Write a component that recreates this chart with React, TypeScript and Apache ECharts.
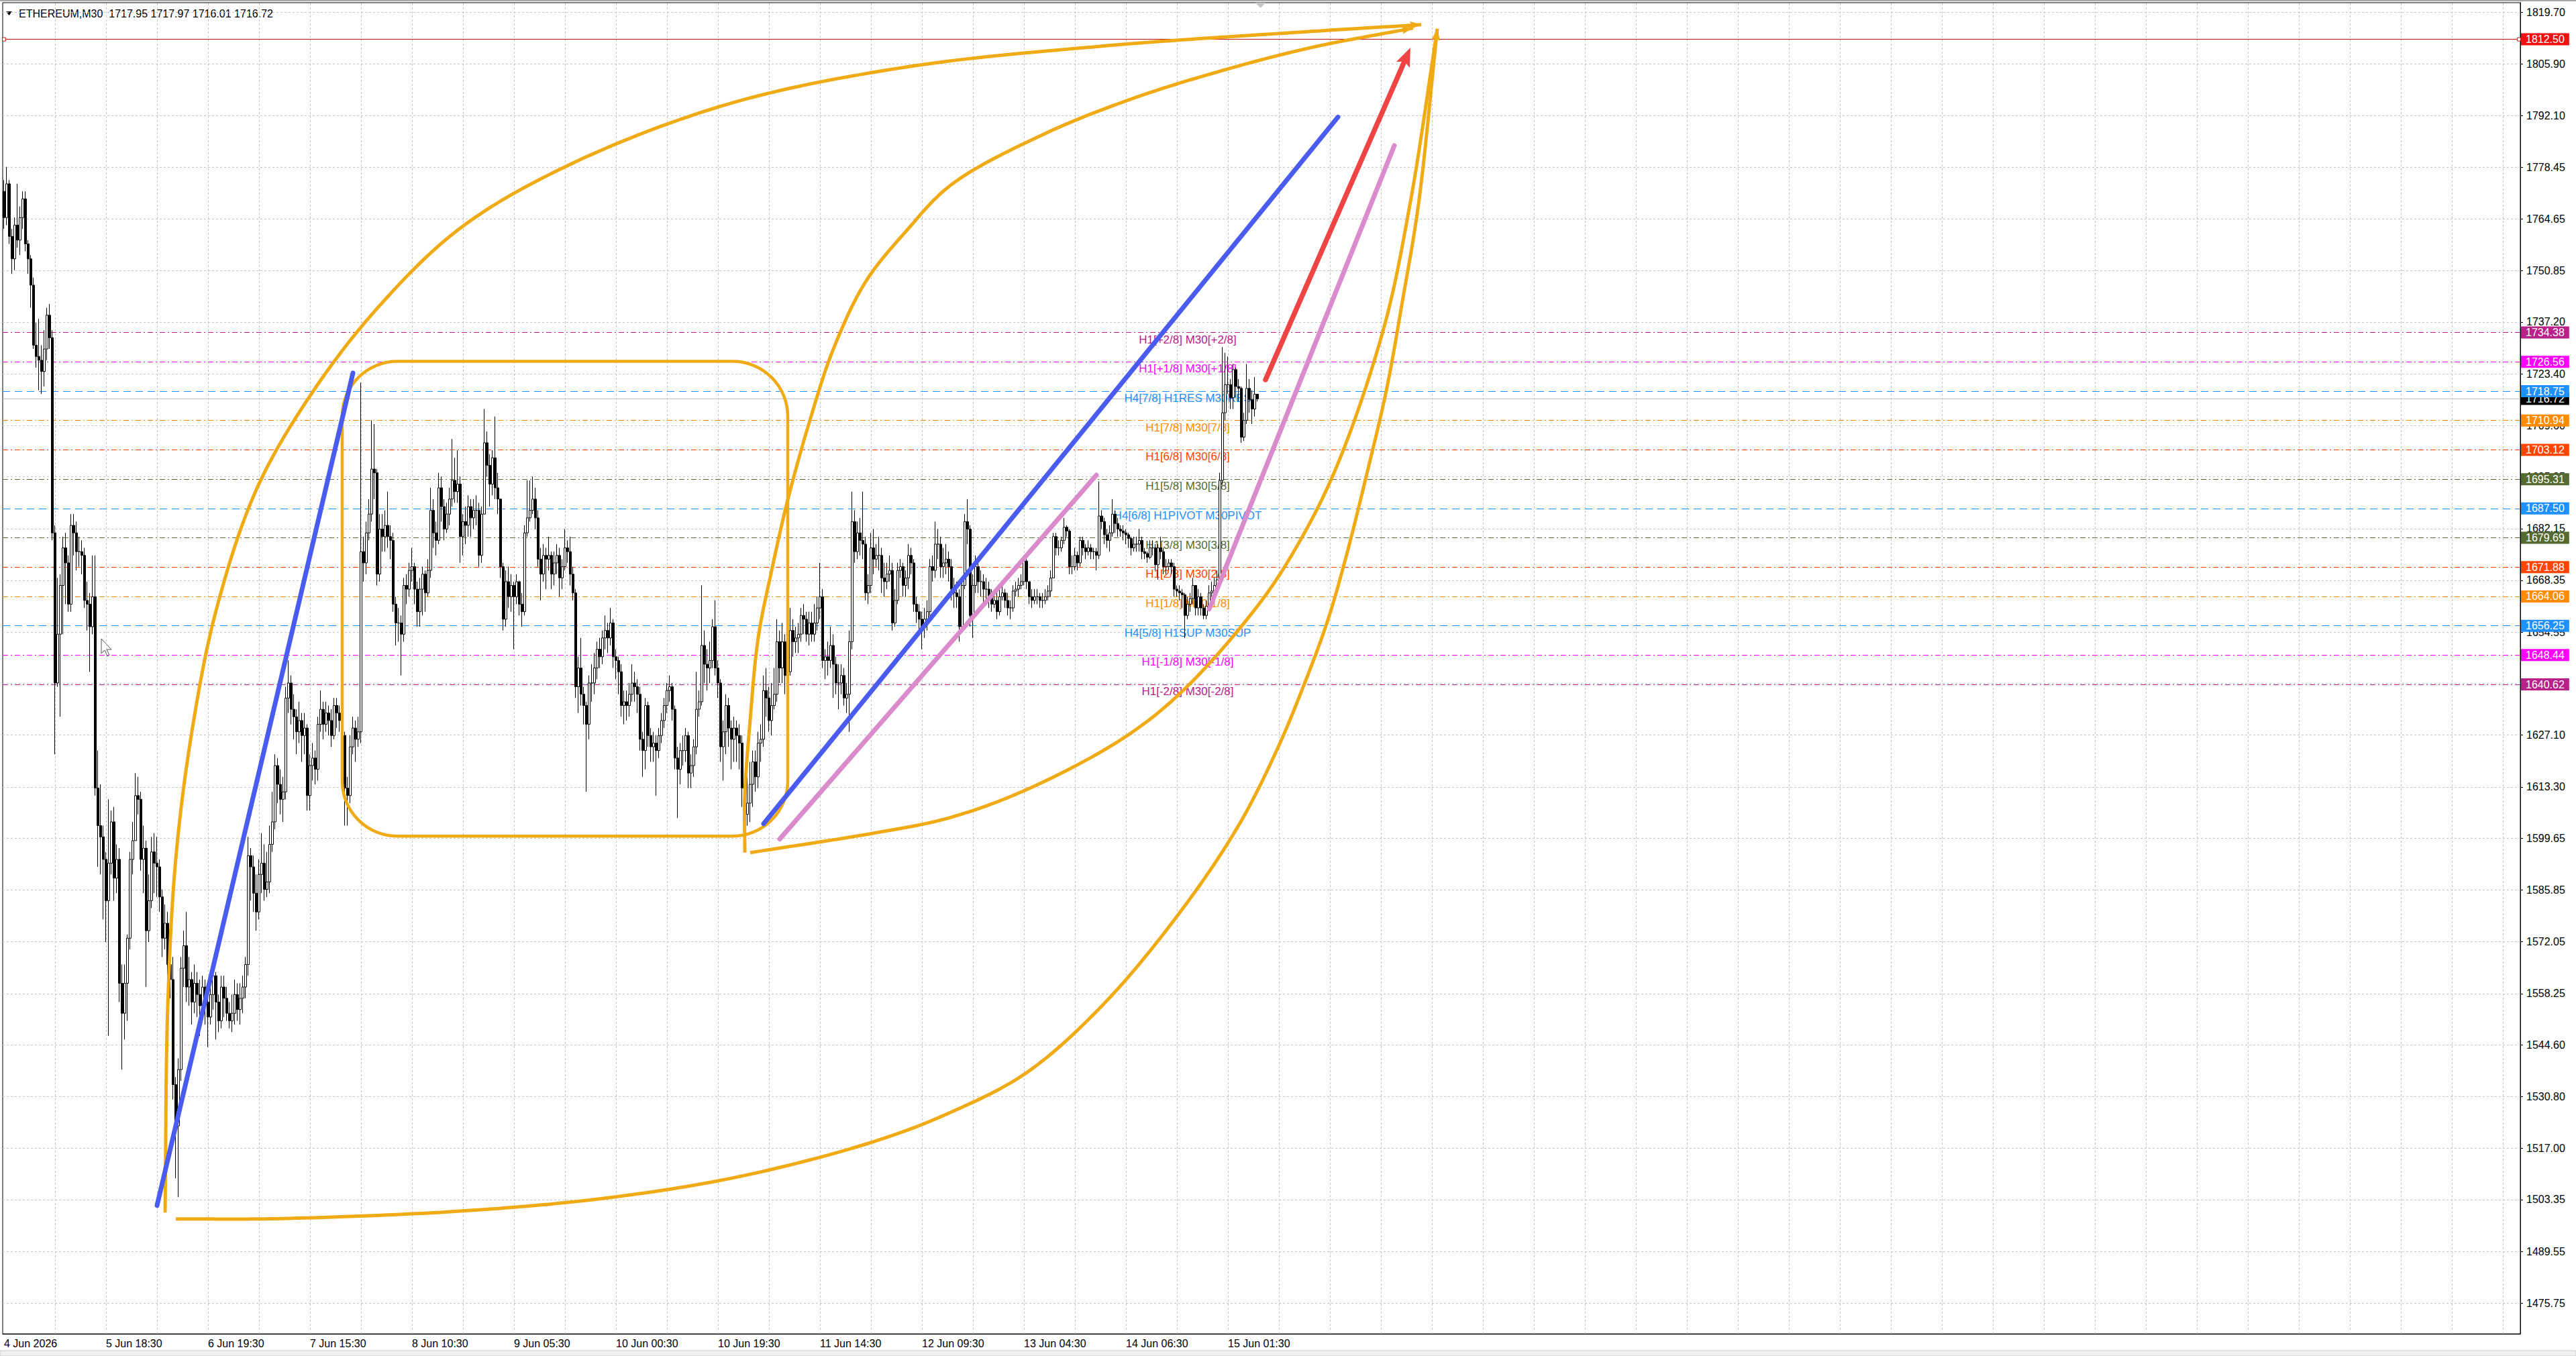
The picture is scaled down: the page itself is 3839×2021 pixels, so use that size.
import React, { useEffect, useRef } from 'react';
import * as echarts from 'echarts';

const FONT = '"Liberation Sans", Arial, sans-serif';
const SYMBOL = 'ETHEREUM';
const TIMEFRAME = 'M30';

// ---------- candles (M30) ----------
const FIRST_OPEN = 1772;
const CLOSE = [
  1765, 1774, 1760, 1754, 1763, 1759, 1765, 1770, 1758, 1754,
  1747, 1731, 1728, 1727, 1724, 1730, 1739, 1733, 1681, 1641,
  1654, 1667, 1677, 1673, 1662, 1683, 1681, 1676, 1676, 1675,
  1663, 1662, 1656, 1664, 1613, 1603, 1600, 1594, 1583, 1593,
  1604, 1589, 1594, 1561, 1553, 1561, 1573, 1594, 1599, 1611,
  1610, 1594, 1597, 1575, 1583, 1596, 1593, 1592, 1584, 1573,
  1577, 1566, 1562, 1534, 1523, 1538, 1565, 1571, 1560, 1562,
  1556, 1561, 1558, 1555, 1560, 1556, 1552, 1558, 1563, 1556,
  1551, 1560, 1557, 1553, 1551, 1553, 1558, 1554, 1557, 1560,
  1566, 1595, 1592, 1585, 1580, 1590, 1593, 1586, 1588, 1598,
  1604, 1619, 1614, 1610, 1612, 1637, 1641, 1634, 1632, 1628,
  1631, 1627, 1629, 1611, 1619, 1621, 1618, 1630, 1634, 1630,
  1633, 1631, 1627, 1635, 1633, 1631, 1627, 1613, 1611, 1624,
  1629, 1626, 1628, 1676, 1673, 1681, 1686, 1698, 1697, 1670,
  1682, 1680, 1683, 1680, 1679, 1662, 1657, 1657, 1654, 1667,
  1666, 1671, 1672, 1666, 1660, 1666, 1670, 1665, 1671, 1687,
  1681, 1679, 1693, 1688, 1682, 1686, 1690, 1695, 1692, 1694,
  1680, 1684, 1683, 1688, 1685, 1687, 1687, 1675, 1686, 1705,
  1699, 1694, 1701, 1693, 1690, 1672, 1658, 1668, 1664, 1667,
  1664, 1668, 1662, 1660, 1681, 1685, 1687, 1690, 1685, 1674,
  1670, 1675, 1674, 1675, 1670, 1673, 1675, 1669, 1672, 1677,
  1676, 1670, 1665, 1640, 1645, 1638, 1635, 1630, 1641, 1641,
  1645, 1650, 1648, 1653, 1655, 1653, 1657, 1648, 1647, 1644,
  1635, 1636, 1635, 1638, 1641, 1640, 1638, 1626, 1623, 1635,
  1627, 1624, 1625, 1623, 1627, 1631, 1635, 1639, 1640, 1634,
  1621, 1618, 1623, 1623, 1627, 1617, 1619, 1624, 1634, 1636,
  1651, 1646, 1645, 1647, 1656, 1645, 1641, 1624, 1628, 1635,
  1629, 1626, 1629, 1627, 1625, 1613, 1606, 1609, 1614, 1620,
  1616, 1625, 1626, 1639, 1637, 1631, 1635, 1638, 1652, 1645,
  1652, 1643, 1644, 1655, 1652, 1653, 1654, 1659, 1658, 1654,
  1657, 1654, 1657, 1661, 1664, 1647, 1648, 1647, 1651, 1646,
  1641, 1641, 1643, 1637, 1638, 1652, 1684, 1676, 1681, 1679,
  1678, 1665, 1667, 1677, 1674, 1675, 1675, 1669, 1668, 1670,
  1671, 1657, 1663, 1671, 1672, 1667, 1669, 1675, 1673, 1662,
  1660, 1658, 1656, 1658, 1660, 1672, 1671, 1678, 1678, 1672,
  1673, 1674, 1672, 1666, 1665, 1664, 1656, 1667, 1684, 1682,
  1659, 1667, 1672, 1668, 1668, 1666, 1666, 1664, 1662, 1663,
  1660, 1664, 1665, 1663, 1661, 1661, 1665.5, 1666, 1667, 1668,
  1673.5, 1668, 1664, 1663, 1664, 1664, 1663, 1663, 1664, 1665.5,
  1669, 1680, 1677, 1677, 1679, 1682.5, 1681.5, 1672, 1672, 1675,
  1673, 1679, 1677, 1676, 1677, 1676, 1676, 1675, 1685.5, 1684,
  1680.5, 1679, 1681, 1686, 1683.5, 1682, 1681.5, 1681, 1680.5, 1679.5,
  1677, 1678, 1678, 1679, 1676, 1675.5, 1674.5, 1677, 1677, 1672.5,
  1677, 1676, 1672, 1672, 1673, 1672, 1666, 1665.5, 1665, 1664.5,
  1659, 1662, 1663.5, 1667, 1661, 1664, 1661, 1659, 1661.5, 1665,
  1665.5, 1667, 1668.5, 1695, 1713, 1720.5, 1720.5, 1717, 1724.5, 1720,
  1719.5, 1706.5, 1711, 1719.5, 1716.5, 1714, 1717.95, 1716.72,
];
const HIGH = [
  1775, 1778.5, 1775, 1762, 1765, 1774, 1768, 1772, 1772, 1759,
  1755, 1749, 1737, 1738, 1731, 1735, 1741, 1742, 1735, 1683,
  1669, 1670, 1680, 1681, 1675, 1686, 1686, 1684, 1680, 1679,
  1677, 1668, 1665, 1675, 1675, 1623, 1614, 1603, 1596, 1610,
  1607, 1608, 1598, 1597, 1566, 1566, 1574, 1596, 1604, 1617,
  1616, 1612, 1603, 1599, 1590, 1600, 1601, 1600, 1594, 1586,
  1582, 1580, 1570, 1568, 1536, 1541, 1568, 1575, 1580, 1568,
  1564, 1566, 1564, 1562, 1563, 1562, 1560, 1563, 1566, 1564,
  1558, 1563, 1563, 1560, 1556, 1558, 1562, 1561, 1561, 1563,
  1568, 1600, 1597, 1595, 1590, 1594, 1601, 1598, 1596, 1603,
  1612, 1622, 1621, 1618, 1616, 1640, 1647, 1643, 1638, 1634,
  1636, 1633, 1633, 1630, 1622, 1625, 1623, 1632, 1639, 1636,
  1636, 1635, 1634, 1637, 1637, 1635, 1632, 1628, 1616, 1627,
  1632, 1631, 1632, 1721, 1680, 1684, 1690, 1711, 1710, 1698,
  1686, 1686, 1687, 1692, 1683, 1681, 1664, 1661, 1659, 1669,
  1670, 1673, 1677, 1673, 1668, 1669, 1672, 1671, 1674, 1693,
  1690, 1684, 1697, 1696, 1690, 1689, 1693, 1706, 1701, 1703,
  1696, 1686, 1688, 1691, 1690, 1690, 1691, 1689, 1688, 1714,
  1708, 1702, 1703, 1712, 1697, 1689, 1673, 1671, 1672, 1670,
  1668, 1670, 1668, 1665, 1683, 1695, 1695, 1696, 1693, 1687,
  1677, 1678, 1677, 1680, 1676, 1676, 1678, 1677, 1674, 1682,
  1679, 1680, 1672, 1666, 1648, 1653, 1640, 1636, 1643, 1646,
  1649, 1652, 1653, 1655, 1659, 1657, 1661, 1658, 1650, 1648,
  1646, 1639, 1639, 1641, 1646, 1644, 1642, 1640, 1628, 1637,
  1636, 1629, 1628, 1627, 1629, 1633, 1637, 1641, 1643, 1641,
  1635, 1624, 1625, 1627, 1629, 1628, 1622, 1626, 1644, 1639,
  1667, 1655, 1650, 1652, 1658, 1663, 1647, 1642, 1631, 1638,
  1637, 1631, 1632, 1631, 1630, 1627, 1614, 1616, 1620, 1623,
  1623, 1628, 1630, 1643, 1645, 1640, 1641, 1645, 1658, 1655,
  1657, 1654, 1649, 1661, 1658, 1656, 1657, 1661, 1662, 1660,
  1660, 1660, 1662, 1664, 1673, 1666, 1650, 1652, 1656, 1654,
  1648, 1646, 1646, 1645, 1641, 1655, 1692, 1687, 1684, 1685,
  1692, 1680, 1670, 1681, 1682, 1678, 1680, 1677, 1673, 1673,
  1675, 1673, 1666, 1673, 1674, 1673, 1671, 1678, 1677, 1674,
  1664, 1662, 1660, 1661, 1663, 1674, 1675, 1684, 1682, 1680,
  1677, 1678, 1676, 1674, 1669, 1668, 1666, 1669, 1686, 1690,
  1683, 1670, 1675, 1674, 1671, 1670, 1669, 1668, 1666, 1665,
  1665, 1666, 1668, 1666, 1665, 1663, 1667, 1668, 1669, 1670,
  1675, 1674, 1668, 1666, 1666, 1666, 1665, 1665, 1666, 1667,
  1671, 1681, 1681, 1679, 1680, 1685, 1683, 1682, 1675, 1677,
  1676, 1680, 1680, 1678, 1679, 1678, 1677, 1677, 1694.7, 1687,
  1685, 1682, 1683, 1690, 1687, 1685, 1683, 1683, 1682, 1681,
  1680, 1680, 1680, 1682, 1680, 1677, 1676, 1679, 1679, 1678,
  1678, 1680, 1677, 1674, 1674, 1674, 1673, 1667, 1667, 1666,
  1665, 1664, 1665, 1669, 1667, 1666, 1665, 1662, 1663, 1667,
  1668, 1669, 1671, 1697, 1730.5, 1729, 1728, 1722, 1726, 1725,
  1722, 1720, 1713, 1726, 1722, 1719, 1722.5, 1717.97,
];
const LOW = [
  1762, 1763, 1758, 1750, 1751, 1757, 1755, 1762, 1756, 1750,
  1741, 1730, 1725, 1719, 1718, 1720, 1727, 1730, 1679, 1622,
  1640, 1632, 1654, 1662, 1660, 1660, 1675, 1671, 1672, 1670,
  1661, 1655, 1644, 1654, 1611, 1592, 1590, 1578, 1572, 1547,
  1590, 1583, 1585, 1556, 1538, 1546, 1551, 1570, 1590, 1600,
  1606, 1591, 1585, 1560, 1572, 1581, 1585, 1584, 1580, 1568,
  1570, 1563, 1557, 1530, 1509, 1504, 1535, 1560, 1556, 1555,
  1550, 1553, 1552, 1547, 1551, 1550, 1544, 1550, 1554, 1546,
  1548, 1549, 1552, 1551, 1549, 1548, 1550, 1551, 1550, 1553,
  1557, 1563, 1583, 1580, 1575, 1578, 1585, 1583, 1584, 1585,
  1596, 1602, 1609, 1606, 1604, 1610, 1633, 1630, 1626, 1622,
  1625, 1620, 1622, 1607, 1607, 1615, 1614, 1615, 1628, 1626,
  1628, 1627, 1624, 1626, 1629, 1628, 1624, 1603, 1603, 1609,
  1622, 1620, 1624, 1625, 1668, 1670, 1679, 1684, 1690, 1667,
  1668, 1676, 1676, 1677, 1674, 1660, 1651, 1652, 1643, 1652,
  1662, 1664, 1668, 1662, 1656, 1656, 1659, 1660, 1664, 1669,
  1677, 1675, 1678, 1684, 1679, 1681, 1683, 1688, 1689, 1689,
  1673, 1675, 1678, 1680, 1680, 1682, 1683, 1672, 1673, 1695,
  1696, 1688, 1691, 1690, 1686, 1669, 1655, 1656, 1661, 1660,
  1650, 1662, 1659, 1656, 1659, 1680, 1684, 1686, 1682, 1672,
  1663, 1668, 1666, 1671, 1666, 1667, 1670, 1664, 1666, 1671,
  1673, 1667, 1663, 1637, 1633, 1635, 1630, 1612, 1626, 1636,
  1638, 1642, 1645, 1646, 1650, 1649, 1651, 1645, 1642, 1638,
  1632, 1630, 1631, 1632, 1636, 1636, 1633, 1623, 1616, 1618,
  1624, 1620, 1620, 1611, 1621, 1625, 1629, 1633, 1636, 1631,
  1618, 1605, 1614, 1619, 1620, 1613, 1613, 1616, 1622, 1632,
  1635, 1641, 1639, 1641, 1645, 1643, 1637, 1620, 1615, 1622,
  1624, 1618, 1620, 1620, 1618, 1608, 1600, 1603, 1604, 1608,
  1612, 1613, 1620, 1624, 1632, 1628, 1627, 1634, 1636, 1641,
  1641, 1638, 1638, 1643, 1648, 1649, 1649, 1652, 1654, 1652,
  1651, 1652, 1652, 1655, 1658, 1645, 1642, 1643, 1645, 1637,
  1638, 1634, 1638, 1635, 1633, 1628, 1650, 1673, 1674, 1675,
  1674, 1663, 1662, 1665, 1670, 1672, 1671, 1665, 1664, 1666,
  1668, 1655, 1656, 1662, 1669, 1664, 1664, 1666, 1670, 1660,
  1657, 1654, 1650, 1653, 1655, 1658, 1668, 1669, 1674, 1669,
  1669, 1670, 1668, 1663, 1661, 1661, 1652, 1655, 1666, 1678,
  1656, 1653, 1665, 1665, 1664, 1662, 1662, 1661, 1660, 1661,
  1658, 1659, 1663, 1661, 1659, 1658, 1660, 1664, 1664, 1666,
  1667, 1666, 1662, 1661, 1662, 1662, 1661, 1661, 1662, 1663,
  1664, 1669, 1675, 1675, 1676, 1678, 1680, 1670, 1670, 1671,
  1671, 1672, 1675, 1674, 1675, 1674, 1674, 1671, 1674, 1682,
  1678, 1677, 1676, 1680, 1681, 1680, 1680, 1679, 1678, 1677,
  1675, 1676, 1676, 1676, 1674, 1674, 1673, 1674, 1675, 1671,
  1668.5, 1674, 1670, 1670, 1671, 1670, 1664, 1664, 1663, 1661,
  1653, 1658, 1660, 1662, 1659, 1659, 1659, 1658, 1658, 1661,
  1664, 1665, 1666, 1668, 1694, 1711, 1718, 1714, 1714, 1717,
  1716, 1705, 1705.5, 1710, 1713, 1710, 1712, 1716.01,
];

// ---------- time axis ----------
const N_SLOTS = 938; // bars + chart shift area
const GRID_STEP_BARS = 19;
const X_LABEL_INDEX = [0, 38, 76, 114, 152, 190, 228, 266, 304, 342, 380, 418, 456];
const X_LABEL_TEXT = [
  '4 Jun 2026', '5 Jun 18:30', '6 Jun 19:30', '7 Jun 15:30', '8 Jun 10:30', '9 Jun 05:30',
  '10 Jun 00:30', '10 Jun 19:30', '11 Jun 14:30', '12 Jun 09:30', '13 Jun 04:30',
  '14 Jun 06:30', '15 Jun 01:30',
];

// ---------- price axis ----------
const Y_MIN = 1467.59;
const Y_MAX = 1822.26;
const Y_TICKS = [
  1819.70, 1805.90, 1792.10, 1778.45, 1764.65, 1750.85, 1737.20, 1723.40, 1709.60,
  1695.95, 1682.15, 1668.35, 1654.55, 1640.90, 1627.10, 1613.30, 1599.65, 1585.85,
  1572.05, 1558.25, 1544.60, 1530.80, 1517.00, 1503.35, 1489.55, 1475.75,
];

// ---------- Murrey levels ----------
const DM = '#b8208a', MAG = '#ff00ff', BLU = '#1e90ff', ORG = '#ff8c00', ORR = '#ff4500', OLV = '#556b2f';
const LEVEL_PRICES = [1734.38, 1726.56, 1718.75, 1710.94, 1703.12, 1695.31, 1687.50, 1679.69, 1671.88, 1664.06, 1656.25, 1648.44, 1640.62];
const LEVEL_NAMES = [
  'H1[+2/8] M30[+2/8]', 'H1[+1/8] M30[+1/8]', 'H4[7/8] H1RES M30RES', 'H1[7/8] M30[7/8]',
  'H1[6/8] M30[6/8]', 'H1[5/8] M30[5/8]', 'H4[6/8] H1PIVOT M30PIVOT', 'H1[3/8] M30[3/8]',
  'H1[2/8] M30[2/8]', 'H1[1/8] M30[1/8]', 'H4[5/8] H1SUP M30SUP', 'H1[-1/8] M30[-1/8]', 'H1[-2/8] M30[-2/8]',
];
const LEVEL_COLORS = [DM, MAG, BLU, ORG, ORR, OLV, BLU, OLV, ORR, ORG, BLU, MAG, DM];
const LEVEL_IS_H4 = [false, false, true, false, false, false, true, false, false, false, true, false, false];
const LEVEL_TEXT_BAR = 441;
const RED_LINE = 1812.5;

// ---------- drawings: [bar index, price] anchors ----------
const ORANGE = '#f0aa14', BLUE = '#4a5cf0', PINK = '#d98bcc', RED = '#ef4444';
const BOX = [[126.4, 1726.7], [292.15, 1600.2]];
const BLUE_1 = [[57.25, 1501.8], [129.5, 1723.6]];
const BLUE_2 = [[282.5, 1603.5], [497.25, 1791.8]];
const PINK_1 = [[288.5, 1599.4], [406.9, 1696.4]];
const PINK_2 = [[448.9, 1660.7], [517.6, 1784.2]];
const RED_ARROW = [[470.15, 1721.8], [524.25, 1810.3]];
const ARC_UPPER_OUTER = [
  [60.25, 1499.9], [61, 1554.8], [64, 1594.2], [69.75, 1628.1], [78.5, 1660.3], [93.5, 1692.5],
  [113.5, 1717.5], [138.5, 1740.8], [170, 1762.2], [211, 1779.2], [270.25, 1795.3], [336.25, 1805.1],
  [411, 1810.8], [486.75, 1814.6], [527.75, 1816.4],
];
const ARC_LOWER_OUTER = [
  [63.6, 1498.2], [103, 1498.3], [170, 1500.3], [223.5, 1503.75], [273.5, 1509.5], [323.5, 1518.8],
  [352.25, 1526.4], [381, 1537.2], [409.75, 1555.7], [438.5, 1580.75], [459.75, 1603.1], [474.25, 1622.8],
  [484.25, 1639.9], [492.75, 1657.3], [500, 1674.6], [508, 1697.5], [514.5, 1718.9], [521, 1742.7],
  [526.75, 1768.6], [533.75, 1815.3],
];
const ARC_UPPER_INNER = [
  [275.5, 1595.8], [276.25, 1611.1], [278, 1631.2], [281, 1653.1], [286, 1671.0], [292.25, 1689.8],
  [299.75, 1710.4], [308.5, 1730.0], [321, 1747.9], [336, 1761.3], [353, 1773.8], [386.5, 1787.1],
  [420, 1796.6], [453.4, 1804.0], [486.9, 1810.3], [525.25, 1815.5],
];
const ARC_LOWER_INNER = [
  [278.4, 1595.8], [323.5, 1601.0], [352.25, 1605.05], [381, 1612.6], [416.75, 1626.3], [438.5, 1638.8],
  [467, 1661.5], [481.25, 1676.6], [495.75, 1697.8], [514.25, 1735.4], [524.25, 1769.3], [533.75, 1815.3],
];
const RED_LINE_HANDLES = [[0, RED_LINE], [937, RED_LINE]];

const DRAWINGS = [
  { kind: 'box', pts: BOX, color: ORANGE, width: 4.5 },
  { kind: 'curve', pts: ARC_UPPER_OUTER, color: ORANGE, width: 5, head: [17, 12] },
  { kind: 'curve', pts: ARC_LOWER_OUTER, color: ORANGE, width: 5, head: [17, 12] },
  { kind: 'curve', pts: ARC_UPPER_INNER, color: ORANGE, width: 5, head: [17, 12] },
  { kind: 'curve', pts: ARC_LOWER_INNER, color: ORANGE, width: 5, head: [17, 12] },
  { kind: 'line', pts: BLUE_1, color: BLUE, width: 7 },
  { kind: 'line', pts: BLUE_2, color: BLUE, width: 7 },
  { kind: 'line', pts: PINK_1, color: PINK, width: 7 },
  { kind: 'line', pts: PINK_2, color: PINK, width: 7 },
  { kind: 'arrow', pts: RED_ARROW, color: RED, width: 7.5, head: [28, 22] },
  { kind: 'handles', pts: RED_LINE_HANDLES, color: '#c81010', width: 1 },
];

function buildCandles() {
  return CLOSE.map((c, i) => {
    const o = i === 0 ? FIRST_OPEN : CLOSE[i - 1];
    return [o, c, Math.min(LOW[i], o, c), Math.max(HIGH[i], o, c)];
  });
}

// centripetal Catmull-Rom through pixel anchors (rendering only)
function splinePixels(pts: number[][], samples = 20) {
  const n = pts.length;
  if (n < 3) return pts;
  const out: number[][] = [pts[0]];
  const dist = (a: number[], b: number[]) => Math.max(1e-3, Math.pow(Math.hypot(b[0] - a[0], b[1] - a[1]), 0.5));
  for (let i = 0; i < n - 1; i++) {
    const p1 = pts[i], p2 = pts[i + 1];
    const p0 = i === 0 ? [2 * p1[0] - p2[0], 2 * p1[1] - p2[1]] : pts[i - 1];
    const p3 = i + 2 < n ? pts[i + 2] : [2 * p2[0] - p1[0], 2 * p2[1] - p1[1]];
    const t0 = 0, t1 = t0 + dist(p0, p1), t2 = t1 + dist(p1, p2), t3 = t2 + dist(p2, p3);
    for (let s = 1; s <= samples; s++) {
      const t = t1 + ((t2 - t1) * s) / samples;
      const lerp = (a: number[], b: number[], ta: number, tb: number) => {
        const wa = (tb - t) / (tb - ta), wb = (t - ta) / (tb - ta);
        return [a[0] * wa + b[0] * wb, a[1] * wa + b[1] * wb];
      };
      const A1 = lerp(p0, p1, t0, t1), A2 = lerp(p1, p2, t1, t2), A3 = lerp(p2, p3, t2, t3);
      const B1 = lerp(A1, A2, t0, t2), B2 = lerp(A2, A3, t1, t3);
      out.push(lerp(B1, B2, t1, t2));
    }
  }
  return out;
}

function renderDrawing(params: any, api: any) {
  const d: any = DRAWINGS[params.dataIndex];
  const px = d.pts.map((p: number[]) => api.coord(p));
  if (d.kind === 'box') {
    const [a, b] = px;
    return {
      type: 'rect',
      shape: { x: Math.min(a[0], b[0]), y: Math.min(a[1], b[1]), width: Math.abs(b[0] - a[0]), height: Math.abs(b[1] - a[1]), r: 82 },
      style: { fill: null, stroke: d.color, lineWidth: d.width },
    };
  }
  if (d.kind === 'handles') {
    return {
      type: 'group',
      children: px.map((p: number[]) => ({
        type: 'rect', shape: { x: p[0] - 2.5, y: p[1] - 2.5, width: 5, height: 5 },
        style: { fill: '#fff', stroke: d.color, lineWidth: 1 },
      })),
    };
  }
  const children: any[] = [];
  let linePts = d.kind === 'curve' ? splinePixels(px) : px;
  if (d.head) {
    const tip = linePts[linePts.length - 1];
    const prev = linePts[Math.max(0, linePts.length - (d.kind === 'curve' ? 5 : 2))];
    const dx = tip[0] - prev[0], dy = tip[1] - prev[1];
    const len = Math.sqrt(dx * dx + dy * dy) || 1;
    const ux = dx / len, uy = dy / len;
    const nx = -uy, ny = ux;
    const [hl, hw] = d.head;
    const bx = tip[0] - ux * hl, by = tip[1] - uy * hl;
    children.push({
      type: 'polygon',
      shape: { points: [[tip[0], tip[1]], [bx + nx * hw / 2, by + ny * hw / 2], [bx + ux * hl * 0.2, by + uy * hl * 0.2], [bx - nx * hw / 2, by - ny * hw / 2]] },
      style: { fill: d.color },
    });
    if (d.kind === 'arrow') linePts = [px[0], [bx + ux * 4, by + uy * 4]];
  }
  children.unshift({
    type: 'polyline',
    shape: { points: linePts },
    style: { fill: null, stroke: d.color, lineWidth: d.width, lineCap: d.kind === 'curve' ? 'butt' : 'round', lineJoin: 'round' },
  });
  return { type: 'group', children };
}

function renderLevelText(params: any, api: any) {
  const k = params.dataIndex;
  const p = api.coord([api.value(0), api.value(1)]);
  return {
    type: 'text',
    x: p[0],
    y: p[1] + 2,
    style: {
      text: LEVEL_NAMES[k], fill: LEVEL_COLORS[k], font: `17px ${FONT}`,
      align: 'center', verticalAlign: 'top', textAlign: 'center', textVerticalAlign: 'top',
    },
  };
}

function priceBox(bg: string) {
  return {
    show: true, position: 'end', distance: 1,
    formatter: (prm: any) => Number(prm.value).toFixed(2),
    color: '#fff', backgroundColor: bg, padding: [1, 7, 1, 7],
    fontSize: 16, fontFamily: FONT,
  };
}

export default function App() {
  const ref = useRef<HTMLDivElement>(null);
  useEffect(() => {
    const chart = echarts.init(ref.current as HTMLDivElement, null, { renderer: 'svg' });
    const candles = buildCandles();
    const last = candles[candles.length - 1];
    const lastClose = last[1];
    const header = `${SYMBOL},${TIMEFRAME}  ${last[0].toFixed(2)} ${last[3].toFixed(2)} ${last[2].toFixed(2)} ${last[1].toFixed(2)}`;
    const slots = Array.from({ length: N_SLOTS }, (_, i) => String(i));
    const vGrid: number[] = [];
    for (let i = GRID_STEP_BARS; i < N_SLOTS; i += GRID_STEP_BARS) vGrid.push(i);

    const levelLines = LEVEL_PRICES.map((p, k) => ({
      yAxis: p,
      lineStyle: { color: LEVEL_COLORS[k], width: 1, type: LEVEL_IS_H4[k] ? [11, 7] : [8, 4, 2, 4] },
      label: priceBox(LEVEL_COLORS[k]),
    }));

    const option: any = {
      animation: false,
      backgroundColor: '#ffffff',
      textStyle: { fontFamily: FONT },
      grid: { left: 4, right: 83, top: 4, bottom: 33, show: true, borderColor: '#000', borderWidth: 1, backgroundColor: 'transparent', containLabel: false, outerBoundsMode: 'none' },
      xAxis: {
        type: 'category', data: slots, boundaryGap: true,
        axisLine: { show: true, lineStyle: { color: '#000', width: 1 } },
        axisTick: { show: false },
        splitLine: { show: false },
        axisLabel: {
          interval: (idx: number) => X_LABEL_INDEX.indexOf(idx) >= 0,
          formatter: (_v: string, idx: number) => X_LABEL_TEXT[X_LABEL_INDEX.indexOf(idx)] || '',
          align: 'left', margin: 6, color: '#000', fontSize: 16, fontFamily: FONT,
        },
      },
      yAxis: {
        type: 'value', position: 'right', min: Y_MIN, max: Y_MAX, scale: true,
        axisLine: { show: true, lineStyle: { color: '#000', width: 1 } },
        axisTick: { show: true, length: 4, customValues: Y_TICKS, lineStyle: { color: '#000' } },
        splitLine: { show: false },
        axisLabel: {
          customValues: Y_TICKS, formatter: (v: number) => Number(v).toFixed(2),
          margin: 9, color: '#000', fontSize: 16, fontFamily: FONT,
        },
      },
      graphic: [
        { type: 'rect', shape: { x: 0, y: 0, width: 3839, height: 2 }, style: { fill: '#a8a8a8' }, silent: true },
        { type: 'rect', shape: { x: 0, y: 2013, width: 3839, height: 8 }, style: { fill: '#f0f0f0', stroke: '#c8c8c8', lineWidth: 1 }, silent: true },
        { type: 'polygon', shape: { points: [[9, 17], [18, 17], [13.5, 23]] }, style: { fill: '#000' }, silent: true },
        { type: 'text', left: 28, top: 12, style: { text: header, font: `16px ${FONT}`, fill: '#000' }, silent: true },
        { type: 'polygon', shape: { points: [[1871, 4], [1886, 4], [1878.5, 12]] }, style: { fill: '#c4c4c4' }, silent: true },
        {
          type: 'polygon', silent: true,
          shape: { points: [[151, 952], [151, 974], [156, 969], [160, 978], [163, 976.5], [159, 968], [166, 968]] },
          style: { fill: '#fff', stroke: '#555', lineWidth: 1 },
        },
      ],
      series: [
        {
          type: 'line', data: [], silent: true, z: 1,
          markLine: {
            silent: true, z: 1, symbol: ['none', 'none'], animation: false,
            label: { show: false },
            lineStyle: { color: '#c4c4c4', type: [3, 3], width: 1 },
            emphasis: { disabled: true },
            data: [...Y_TICKS.map((v) => ({ yAxis: v })), ...vGrid.map((i) => ({ xAxis: i }))],
          },
        },
        {
          type: 'line', data: [], silent: true, z: 2,
          markLine: {
            silent: true, z: 2, symbol: ['none', 'none'], animation: false, precision: 2,
            emphasis: { disabled: true },
            data: [
              { yAxis: lastClose, lineStyle: { color: '#c0c0c0', type: 'solid', width: 1 }, label: priceBox('#000000') },
              { yAxis: RED_LINE, lineStyle: { color: '#c81010', type: 'solid', width: 1 }, label: priceBox('#f01010') },
              ...levelLines,
            ],
          },
        },
        {
          type: 'custom', z: 2, silent: true, clip: false,
          data: LEVEL_PRICES.map((p) => [LEVEL_TEXT_BAR, p]),
          renderItem: renderLevelText,
        },
        {
          type: 'candlestick', name: SYMBOL, z: 3, silent: true, clip: false,
          barWidth: 3,
          data: candles,
          itemStyle: { color: '#ffffff', color0: '#000000', borderColor: '#000000', borderColor0: '#000000', borderColorDoji: '#000000', borderWidth: 1 },
        },
        {
          type: 'custom', z: 4, silent: true, clip: false,
          data: DRAWINGS.map((_, k) => [k, 1600]),
          renderItem: renderDrawing,
        },
      ],
    };
    chart.setOption(option);
    return () => chart.dispose();
  }, []);
  return <div ref={ref} style={{ position: 'absolute', left: 0, top: 0, width: 3839, height: 2021, background: '#fff' }} />;
}
